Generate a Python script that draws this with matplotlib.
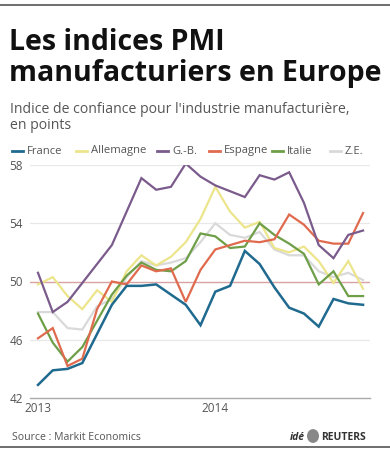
import matplotlib
matplotlib.use("Agg")
import matplotlib.pyplot as plt
from matplotlib.lines import Line2D

months = list(range(23))  # Jan 2013 .. Nov 2014
france = [42.9, 43.9, 44.0, 44.4, 46.4, 48.4, 49.7, 49.7, 49.8, 49.1, 48.4, 47.0,
          49.3, 49.7, 52.1, 51.2, 49.6, 48.2, 47.8, 46.9, 48.8, 48.5, 48.4]
allemagne = [49.8, 50.3, 49.0, 48.1, 49.4, 48.6, 50.7, 51.8, 51.1, 51.7, 52.7, 54.3,
             56.5, 54.8, 53.7, 54.1, 52.3, 52.0, 52.4, 51.4, 49.9, 51.4, 49.5]
gb = [50.6, 47.9, 48.6, 49.9, 51.2, 52.5, 54.8, 57.1, 56.3, 56.5, 58.1, 57.2,
      56.6, 56.2, 55.8, 57.3, 57.0, 57.5, 55.4, 52.5, 51.6, 53.2, 53.5]
espagne = [46.1, 46.8, 44.2, 44.7, 48.1, 50.0, 49.8, 51.1, 50.7, 50.9, 48.6, 50.8,
           52.2, 52.5, 52.8, 52.7, 52.9, 54.6, 53.9, 52.8, 52.6, 52.6, 54.7]
italie = [47.8, 45.8, 44.5, 45.5, 47.3, 49.1, 50.4, 51.3, 50.8, 50.7, 51.4, 53.3,
          53.1, 52.3, 52.4, 54.0, 53.2, 52.6, 51.9, 49.8, 50.7, 49.0, 49.0]
ze = [47.9, 47.9, 46.8, 46.7, 48.3, 48.8, 50.3, 51.4, 51.1, 51.3, 51.6, 52.7,
      54.0, 53.2, 53.0, 53.4, 52.2, 51.8, 51.8, 50.7, 50.3, 50.6, 50.1]

series_names = ["France", "Allemagne", "G.-B.", "Espagne", "Italie", "Z.E."]
series_values = [france, allemagne, gb, espagne, italie, ze]
colors = ["#1f6a8e", "#ece58c", "#7a5b8c", "#e06a4e", "#6e9f48", "#d9d9d9"]
y_ticks = [42, 46, 50, 54, 58]
x_ticks = [0, 12]
x_labels = ["2013", "2014"]

W, H = 390, 450
fig = plt.figure(figsize=(W / 100, H / 100), dpi=100)
plt.rcParams['font.family'] = ['Open Sans', 'DejaVu Sans']

ax = fig.add_axes([30 / W, 1 - 398 / H, 340 / W, (398 - 165) / H])
ax.set_xlim(-0.54, 22.47)
ax.set_ylim(42, 58)

for y in [46, 54, 58]:
    ax.axhline(y, color="#e8e8e8", lw=0.9, zorder=0)
ax.axhline(50, color="#d9a3a3", lw=1.0, zorder=0.5)

draw_order = [5, 1, 4, 3, 2, 0]
for i in draw_order:
    ax.plot(months, series_values[i], color=colors[i], lw=1.6 if i != 0 else 1.8,
            solid_joinstyle="miter", zorder=2 + draw_order.index(i))

for s in ["top", "right", "left"]:
    ax.spines[s].set_visible(False)
ax.spines["bottom"].set_color("#aaaaaa")
ax.spines["bottom"].set_linewidth(1.0)
ax.set_yticks(y_ticks)
ax.set_yticklabels([str(v) for v in y_ticks])
ax.set_xticks(x_ticks)
ax.set_xticklabels(x_labels)
ax.tick_params(axis="both", length=0, labelsize=8.5, labelcolor="#555555")
ax.tick_params(axis="y", pad=5)
ax.tick_params(axis="x", pad=3)

# Top and bottom rules
fig.add_artist(Line2D([0, 1], [1 - 5 / H, 1 - 5 / H], color="#555555", lw=1.2))
fig.add_artist(Line2D([0, 1], [1 - 447 / H, 1 - 447 / H], color="#555555", lw=1.2))

fig.text(9 / W, 1 - 50 / H, "Les indices PMI", fontsize=20.5, fontweight="bold",
         color="#111111", va="baseline")
fig.text(9 / W, 1 - 81 / H, "manufacturiers en Europe", fontsize=20.5, fontweight="bold",
         color="#111111", va="baseline")
fig.text(10 / W, 1 - 113 / H, "Indice de confiance pour l'industrie manufacturière,",
         fontsize=10.1, color="#555555", va="baseline")
fig.text(10 / W, 1 - 129 / H, "en points", fontsize=10.1, color="#555555", va="baseline")

legend_x = [12, 76, 157, 209, 272, 330]
for i, name in enumerate(series_names):
    x0 = legend_x[i]
    fig.add_artist(Line2D([x0 / W, (x0 + 11) / W], [1 - 151 / H, 1 - 151 / H],
                          color=colors[i], lw=2))
    fig.text((x0 + 15) / W, 1 - 151 / H, name, fontsize=8.1, color="#555555",
             va="center")

fig.text(12 / W, 1 - 440 / H, "Source : Markit Economics", fontsize=7.6,
         color="#555555", va="baseline")
fig.text(290 / W, 1 - 440 / H, "idé", fontsize=7.5, fontweight="bold",
         fontstyle="italic", color="#333333", va="baseline")
fig.add_artist(plt.Circle((313 / W, 1 - 436 / H), 6 / W, transform=fig.transFigure,
                          facecolor="#888888", edgecolor="none"))
fig.text(321 / W, 1 - 440 / H, "REUTERS", fontsize=7.5, fontweight="bold",
         color="#333333", va="baseline")

fig.savefig("out.png", dpi=100)
